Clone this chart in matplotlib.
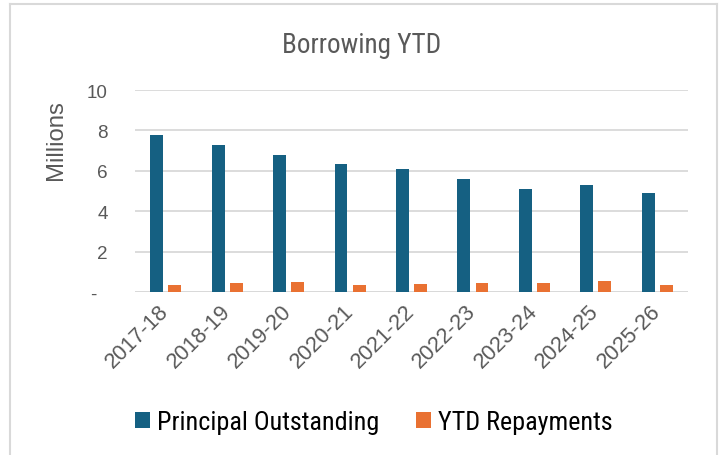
import matplotlib
matplotlib.use("Agg")
import matplotlib.pyplot as plt
from matplotlib import font_manager
from matplotlib.font_manager import FontProperties
from matplotlib.patches import Patch
from matplotlib.lines import Line2D
import matplotlib.transforms as mtransforms
import numpy as np

categories = ["2017-18", "2018-19", "2019-20", "2020-21", "2021-22",
              "2022-23", "2023-24", "2024-25", "2025-26"]
principal = [7.78, 7.27, 6.76, 6.35, 6.07, 5.59, 5.08, 5.28, 4.89]
repayments = [0.33, 0.46, 0.49, 0.36, 0.41, 0.46, 0.46, 0.54, 0.34]
yticks = [0, 2, 4, 6, 8, 10]
ytick_labels = ["-  ", "2", "4", "6", "8", "10"]
series_names = ["Principal Outstanding", "YTD Repayments"]
title = "Borrowing YTD"
ylabel = "Millions"

avail = {f.name for f in font_manager.fontManager.ttflist}
narrow = None
for cand in ["Liberation Sans Narrow", "Roboto Condensed", "DejaVu Sans Condensed",
             "Open Sans Condensed", "Noto Sans Condensed"]:
    if cand in avail:
        narrow = cand
        break
regular = "Liberation Sans" if "Liberation Sans" in avail else "DejaVu Sans"
narrow_family = narrow if narrow else regular
narrow_stretch = "normal" if narrow else "condensed"

BLUE = "#156082"
ORANGE = "#E97132"
GREY = "#595959"
GRID = "#D9D9D9"

fig = plt.figure(figsize=(7.2, 4.56), dpi=100)
W, H = 720, 456
fig.canvas.draw()
renderer = fig.canvas.get_renderer()


def fit_size(s, family, target_px, stretch="normal", base=12.0):
    fp = FontProperties(family=family, stretch=stretch, size=base)
    w, _, _ = renderer.get_text_width_height_descent(s, fp, ismath=False)
    return base * target_px / w


title_fs = fit_size(title, narrow_family, 159, narrow_stretch)
legend_fs = fit_size(series_names[0], narrow_family, 222, narrow_stretch)
ytick_fs = fit_size("10", regular, 21)
xtick_fs = fit_size(categories[0], regular, 80)
ylabel_fs = fit_size(ylabel, regular, 80)

# chart border
for (x0, y0, x1, y1) in [(10, 5, 717, 5), (10, 5, 10, 456), (717, 5, 717, 456)]:
    fig.add_artist(Line2D([x0 / W, x1 / W], [1 - y0 / H, 1 - y1 / H],
                          color=GRID, lw=1.5, transform=fig.transFigure))

ax = fig.add_axes([135 / W, 1 - 293 / H, (688 - 135) / W, (293 - 91) / H])
x = np.arange(len(categories))
bw = 0.21
ax.bar(x - 0.147, principal, width=bw, color=BLUE, zorder=3)
ax.bar(x + 0.147, repayments, width=bw, color=ORANGE, zorder=3)

ax.set_xlim(-0.5, len(categories) - 0.5)
ax.set_ylim(0, 10)
ax.set_yticks(yticks)
ax.set_yticklabels(ytick_labels, family=regular, fontsize=ytick_fs, color=GREY)
ax.set_xticks(x)
ax.set_xticklabels(categories, family=regular, fontsize=xtick_fs, color=GREY,
                   rotation=45, ha="right", va="center", rotation_mode="anchor")
shift = mtransforms.ScaledTranslation(4 / 100, -2 / 100, fig.dpi_scale_trans)
for lbl in ax.get_xticklabels():
    lbl.set_transform(lbl.get_transform() + shift)
ax.tick_params(axis="both", length=0)
ax.tick_params(axis="y", pad=19.5)
ax.tick_params(axis="x", pad=11)
for s in ax.spines.values():
    s.set_visible(False)
ax.grid(axis="y", color=GRID, lw=1.3, zorder=0)
ax.axhline(0, color=GRID, lw=2, zorder=2)

ax.set_ylabel(ylabel, family=regular, fontsize=ylabel_fs, color=GREY)
ax.yaxis.set_label_coords((67 - 135) / 553, 0.755)

fig.text(362 / W, 1 - 53 / H, title, family=narrow_family,
         stretch=narrow_stretch, fontsize=title_fs, color=GREY, ha="center", va="baseline")

em_px = legend_fs * 100 / 72
handles = [Patch(facecolor=BLUE), Patch(facecolor=ORANGE)]
leg = fig.legend(handles, series_names, loc="center", ncol=2,
                 bbox_to_anchor=(374 / W, 1 - 423 / H), frameon=False,
                 prop=dict(family=narrow_family, stretch=narrow_stretch, size=legend_fs),
                 handlelength=15 / em_px, handleheight=15 / em_px,
                 handletextpad=7 / em_px, columnspacing=37 / em_px)
for t in leg.get_texts():
    t.set_color("#000000")

fig.savefig("out.png", dpi=100)
